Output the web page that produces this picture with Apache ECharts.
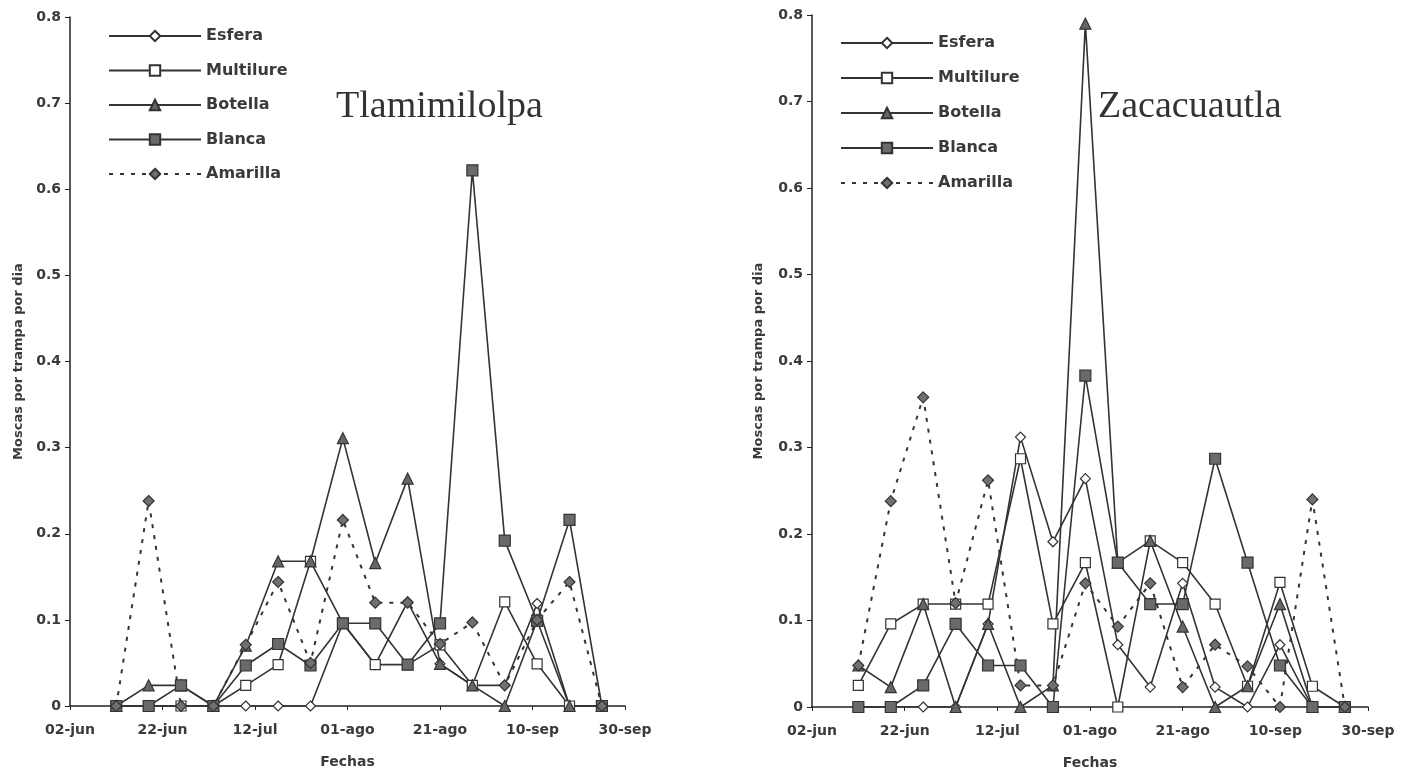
<!DOCTYPE html>
<html>
<head>
<meta charset="utf-8">
<script src="https://cdn.jsdelivr.net/npm/echarts@6/dist/echarts.min.js"></script>
<style>
  html, body { margin: 0; padding: 0; background: #fff; }
  #chart { width: 1403px; height: 771px; }
</style>
</head>
<body>
<div id="chart"></div>
<script>
// fechas de muestreo (días desde el 02-jun)
const sampleDays = [10, 17, 24, 31, 38, 45, 52, 59, 66, 73, 80, 87, 94, 101, 108, 115];
const xTickLabels = ["02-jun", "22-jun", "12-jul", "01-ago", "21-ago", "10-sep", "30-sep"];
const trapNames = ["Esfera", "Multilure", "Botella", "Blanca", "Amarilla"];

// Tlamimilolpa
const tlaEsfera    = [0, 0, 0, 0, 0, 0, 0, 0.096, 0.048, 0.121, 0.049, 0.024, 0.024, 0.119, 0, 0];
const tlaMultilure = [0, 0, 0, 0, 0.024, 0.048, 0.168, 0.096, 0.048, 0.048, 0.071, 0.024, 0.121, 0.049, 0, 0];
const tlaBotella   = [0, 0.024, 0.024, 0, 0.07, 0.168, 0.168, 0.311, 0.166, 0.264, 0.049, 0.024, 0, 0.099, 0, 0];
const tlaBlanca    = [0, 0, 0.024, 0, 0.047, 0.072, 0.047, 0.096, 0.096, 0.048, 0.096, 0.622, 0.192, 0.099, 0.216, 0];
const tlaAmarilla  = [0, 0.238, 0, 0, 0.071, 0.144, 0.05, 0.216, 0.12, 0.12, 0.072, 0.097, 0.024, 0.1, 0.144, 0];

// Zacacuautla
const zacEsfera    = [0, 0, 0, 0, 0.096, 0.312, 0.191, 0.264, 0.072, 0.023, 0.143, 0.023, 0, 0.072, 0, 0];
const zacMultilure = [0.025, 0.096, 0.119, 0.119, 0.119, 0.287, 0.096, 0.167, 0, 0.192, 0.167, 0.119, 0.024, 0.144, 0.024, 0];
const zacBotella   = [0.048, 0.023, 0.119, 0, 0.096, 0, 0.025, 0.79, 0.167, 0.192, 0.093, 0, 0.024, 0.119, 0, 0];
const zacBlanca    = [0, 0, 0.025, 0.096, 0.048, 0.048, 0, 0.383, 0.167, 0.119, 0.119, 0.287, 0.167, 0.048, 0, 0];
const zacAmarilla  = [0.048, 0.238, 0.358, 0.12, 0.262, 0.025, 0.025, 0.143, 0.093, 0.143, 0.023, 0.072, 0.047, 0, 0.24, 0];

const ink = "#333";
const textColor = "#3a3a3a";
const sans = "DejaVu Sans";

// estilo de cada trampa
const trapStyle = {
  Esfera: { symbol: "diamond", symbolSize: 10, fill: "#fff", dashed: false },
  Multilure: { symbol: "rect", symbolSize: 10, fill: "#fff", dashed: false },
  Botella: { symbol: "triangle", symbolSize: 11, fill: "#666", dashed: false },
  Blanca: { symbol: "rect", symbolSize: 11, fill: "#6a6a6a", dashed: false },
  Amarilla: { symbol: "diamond", symbolSize: 11, fill: "#707070", dashed: true },
};

function makeSeries(name, values, idx) {
  const st = trapStyle[name];
  return {
    name: name,
    type: "line",
    xAxisIndex: idx,
    yAxisIndex: idx,
    data: sampleDays.map((d, i) => [d, values[i]]),
    symbol: st.symbol,
    symbolSize: st.symbolSize,
    showSymbol: true,
    itemStyle: { color: st.fill, borderColor: ink, borderWidth: 1.2 },
    lineStyle: {
      color: ink,
      width: st.dashed ? 2 : 1.6,
      type: st.dashed ? [4, 7] : "solid",
    },
    emphasis: { disabled: true },
  };
}

function makeXAxis(idx) {
  return {
    type: "value",
    gridIndex: idx,
    min: 0,
    max: 120,
    interval: 20,
    name: "Fechas",
    nameLocation: "middle",
    nameGap: 49,
    nameTextStyle: { fontFamily: sans, fontSize: 14, fontWeight: "bold", color: textColor },
    axisLine: { lineStyle: { color: "#222", width: 1.5 } },
    axisTick: { length: 4, lineStyle: { color: "#222" } },
    splitLine: { show: false },
    axisLabel: {
      margin: 17,
      fontFamily: sans,
      fontSize: 14,
      fontWeight: "bold",
      color: textColor,
      formatter: (v) => xTickLabels[Math.round(v / 20)],
    },
  };
}

function makeYAxis(idx, gap) {
  return {
    type: "value",
    gridIndex: idx,
    min: 0,
    max: 0.8,
    interval: 0.1,
    name: "Moscas por trampa por dia",
    nameLocation: "middle",
    nameGap: gap,
    nameTextStyle: { fontFamily: sans, fontSize: 13, fontWeight: "bold", color: textColor },
    axisLine: { show: true, lineStyle: { color: "#222", width: 1.5 } },
    axisTick: { show: true, length: 5, lineStyle: { color: "#222" } },
    splitLine: { show: false },
    axisLabel: {
      margin: 9,
      fontFamily: sans,
      fontSize: 14,
      fontWeight: "bold",
      color: textColor,
      formatter: (v) => (v === 0 ? "0" : v.toFixed(1)),
    },
  };
}

function makeLegend(left, top, gap) {
  return {
    orient: "vertical",
    left: left,
    top: top,
    itemWidth: 92,
    itemHeight: 13,
    itemGap: gap,
    selectedMode: false,
    data: trapNames,
    textStyle: { fontFamily: sans, fontSize: 16, fontWeight: "bold", color: textColor },
  };
}

const chart = echarts.init(document.getElementById("chart"));
const option = {
  animation: false,
  backgroundColor: "#fff",
  title: [
    {
      text: "Tlamimilolpa",
      left: 331,
      top: 83,
      textStyle: { fontFamily: "Liberation Serif", fontSize: 38, fontWeight: "normal", color: "#333" },
    },
    {
      text: "Zacacuautla",
      left: 1093,
      top: 83,
      textStyle: { fontFamily: "Liberation Serif", fontSize: 38, fontWeight: "normal", color: "#333" },
    },
  ],
  legend: [makeLegend(103, 23, 18.5), makeLegend(835, 30, 19)],
  grid: [
    { left: 70, right: 778, top: 17, bottom: 65, outerBoundsMode: "none" },
    { left: 812, right: 35, top: 15, bottom: 64, outerBoundsMode: "none" },
  ],
  xAxis: [makeXAxis(0), makeXAxis(1)],
  yAxis: [makeYAxis(0, 45), makeYAxis(1, 47)],
  series: [
    makeSeries("Esfera", tlaEsfera, 0),
    makeSeries("Multilure", tlaMultilure, 0),
    makeSeries("Botella", tlaBotella, 0),
    makeSeries("Blanca", tlaBlanca, 0),
    makeSeries("Amarilla", tlaAmarilla, 0),
    makeSeries("Esfera", zacEsfera, 1),
    makeSeries("Multilure", zacMultilure, 1),
    makeSeries("Botella", zacBotella, 1),
    makeSeries("Blanca", zacBlanca, 1),
    makeSeries("Amarilla", zacAmarilla, 1),
  ],
};
chart.setOption(option);
</script>
</body>
</html>
